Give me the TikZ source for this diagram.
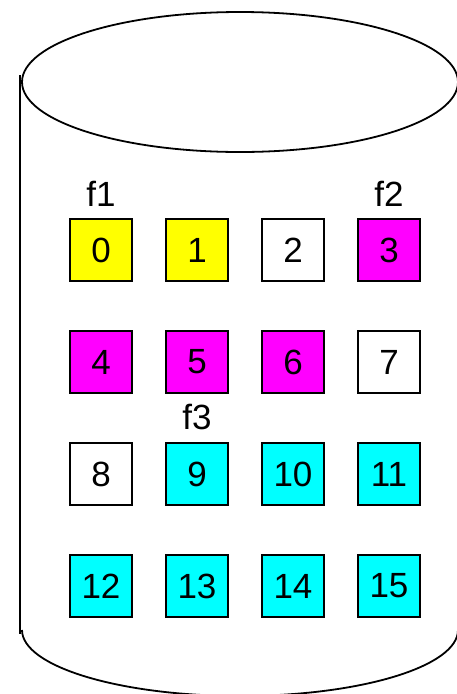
\documentclass[tikz,border=0pt]{standalone}
\usepackage{fontspec}
\setmainfont{Liberation Sans}
\usetikzlibrary{positioning}
\definecolor{fyellow}{RGB}{255,255,0}
\definecolor{fmagenta}{RGB}{255,0,255}
\definecolor{fcyan}{RGB}{0,255,255}

\begin{document}
\begin{tikzpicture}[x=1pt, y=-1pt,
  block/.style={draw=black, line width=1.6pt, minimum size=62pt, inner sep=0pt,
                font=\fontsize{35}{40}\selectfont},
  free/.style={block, fill=white},
  fileA/.style={block, fill=fyellow},
  fileB/.style={block, fill=fmagenta},
  fileC/.style={block, fill=fcyan},
  tag/.style={inner sep=0pt, font=\fontsize{35}{40}\selectfont},
  disk/.style={draw=black, line width=1.8pt}
]
  \clip (0,0) rectangle (457,694);

  % Disk outline
  \draw[disk] (240,82) ellipse [x radius=218, y radius=70];
  \draw[disk] (20,75) -- (20,634);
  \draw[disk] (22,630) arc[start angle=180, end angle=0, x radius=218, y radius=66];

  % Blocks, row by row
  \node[fileA] (b0)  at (101,250) {0};
  \node[fileA] (b1)  at (197,250) {1};
  \node[free]  (b2)  at (293,250) {2};
  \node[fileB] (b3)  at (389,250) {3};

  \node[fileB] (b4)  at (101,362) {4};
  \node[fileB] (b5)  at (197,362) {5};
  \node[fileB] (b6)  at (293,362) {6};
  \node[free]  (b7)  at (389,362) {7};

  \node[free]  (b8)  at (101,474) {8};
  \node[fileC] (b9)  at (197,474) {9};
  \node[fileC] (b10) at (293,474) {10};
  \node[fileC] (b11) at (389,474) {11};

  \node[fileC] (b12) at (101,586) {12};
  \node[fileC] (b13) at (197,586) {13};
  \node[fileC] (b14) at (293,586) {14};
  \node[fileC] (b15) at (389,586) {15};

  % File labels
  \node[tag, above=12pt of b0] (f1) {f1};
  \node[tag, above=12pt of b3] (f2) {f2};
  \node[tag, above=12pt of b9] (f3) {f3};
\end{tikzpicture}
\end{document}
